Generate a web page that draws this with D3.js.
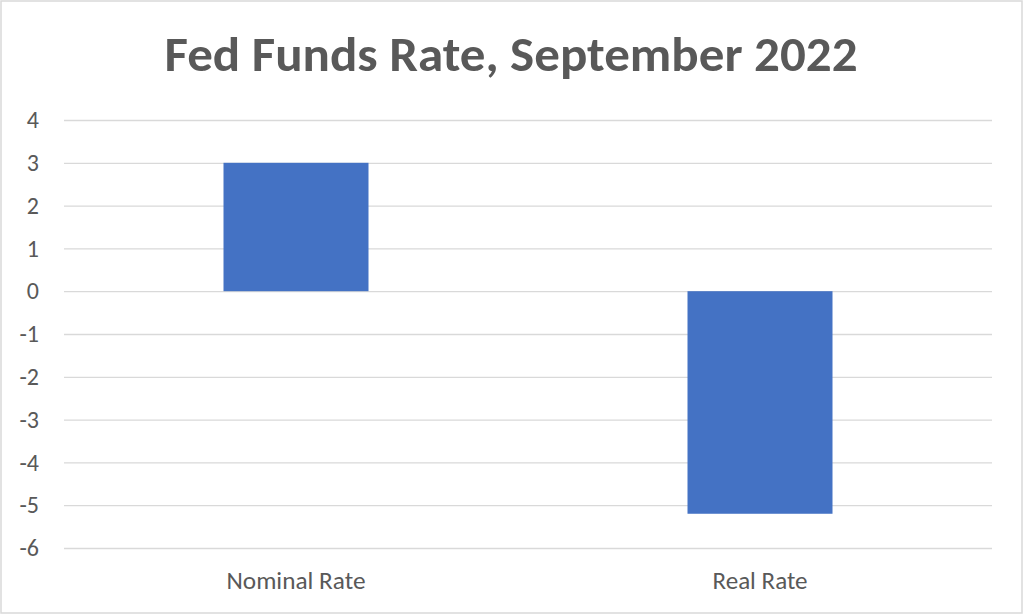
<!DOCTYPE html>
<html><head><meta charset="utf-8">
<script src="https://cdn.jsdelivr.net/npm/d3@7"></script>
<style>
html,body{margin:0;padding:0;background:#fff;}
svg{display:block;}
text{font-family:Carlito,Lato,"Open Sans",sans-serif;fill:#595959;}
</style></head>
<body>
<svg id="chart" width="1024" height="615"></svg>
<script>
const categories = ["Nominal Rate", "Real Rate"];
const values = [3.0, -5.2];
const yTicks = [4, 3, 2, 1, 0, -1, -2, -3, -4, -5, -6];
const title = "Fed Funds Rate, September 2022";

const svg = d3.select("#chart");
const W = 1024, H = 615;
const mLeft = 64, mRight = 992, mTop = 120, mBottom = 548;
const FONT = "Carlito,Lato,'Open Sans',sans-serif";

svg.append("rect").attr("x", 1).attr("y", 1).attr("width", W - 3).attr("height", H - 3)
  .attr("fill", "#fff").attr("stroke", "#d9d9d9").attr("stroke-width", 1.5);

const x = d3.scaleBand().domain(categories).range([mLeft, mRight]).paddingInner(0.6875).paddingOuter(0.34375);
const y = d3.scaleLinear().domain([-6, 4]).range([mBottom, mTop]);

// gridlines
const yAxis = d3.axisLeft(y).tickValues(yTicks).tickSize(-(mRight - mLeft)).tickPadding(25).tickFormat(d => String(d));
const gy = svg.append("g").attr("transform", `translate(${mLeft},0)`).call(yAxis);
gy.select(".domain").remove();
gy.selectAll(".tick line").attr("stroke", "#d9d9d9").attr("stroke-width", 1.3);
gy.selectAll(".tick text").attr("font-size", 24).attr("fill", "#595959").style("font-family", FONT);

// bars
svg.append("g").selectAll("rect").data(values).join("rect")
  .attr("x", (d, i) => x(categories[i]))
  .attr("width", x.bandwidth())
  .attr("y", d => y(Math.max(0, d)))
  .attr("height", d => Math.abs(y(d) - y(0)))
  .attr("fill", "#4472C4");

// category labels
const xAxis = d3.axisBottom(x).tickSize(0).tickPadding(24);
const gx = svg.append("g").attr("transform", `translate(0,${mBottom})`).call(xAxis);
gx.select(".domain").remove();
gx.selectAll(".tick text").attr("font-size", 24).attr("fill", "#595959").style("font-family", FONT)
  .attr("textLength", (d, i) => [139, 95][i]).attr("lengthAdjust", "spacingAndGlyphs");

// title
svg.append("text").attr("x", 511).attr("y", 71).attr("text-anchor", "middle")
  .attr("font-size", 48).attr("font-weight", "bold")
  .attr("textLength", 693).attr("lengthAdjust", "spacingAndGlyphs")
  .text(title);
</script>
</body></html>
